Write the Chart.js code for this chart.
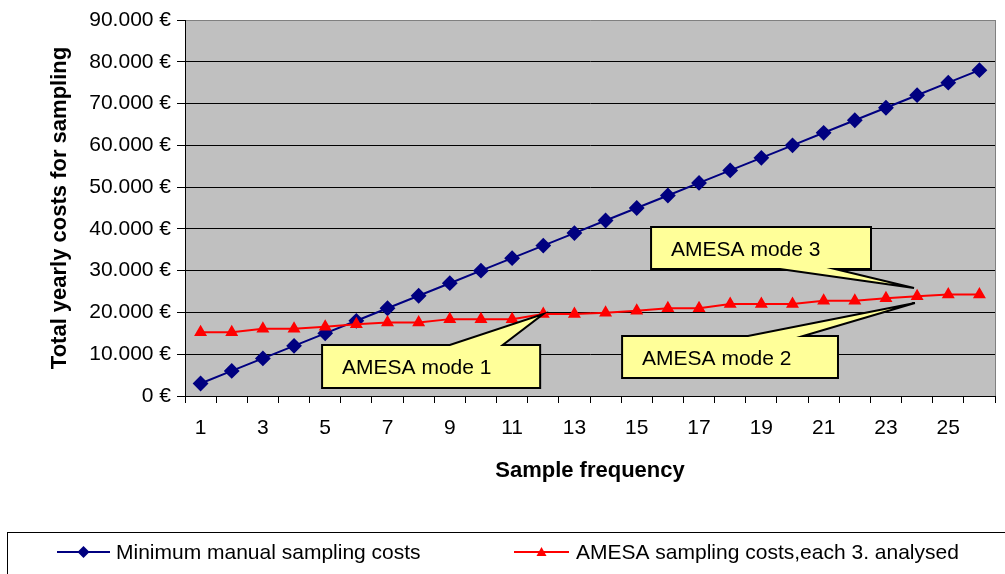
<!DOCTYPE html>
<html>
<head>
<meta charset="utf-8">
<script src="https://cdn.jsdelivr.net/npm/chart.js@4.4.1/dist/chart.umd.min.js"></script>
<style>
  html, body { margin: 0; padding: 0; background: #fff; }
  #contenedor { width: 1005px; height: 574px; }
</style>
</head>
<body>
<div id="contenedor"><canvas id="graficoCostes" width="1005" height="574"></canvas></div>
<script>
var frecuencias = ['1', '2', '3', '4', '5', '6', '7', '8', '9', '10', '11', '12', '13',
                   '14', '15', '16', '17', '18', '19', '20', '21', '22', '23', '24', '25', '26'];
var costesManual = [3000, 6000, 9000, 12000, 15000, 18000, 21000, 24000, 27000, 30000, 33000, 36000, 39000,
                    42000, 45000, 48000, 51000, 54000, 57000, 60000, 63000, 66000, 69000, 72000, 75000, 78000];
var costesAmesa = [15250, 15250, 16100, 16100, 16600, 17200, 17600, 17600, 18400, 18400, 18400, 19600, 19600,
                   19900, 20400, 21000, 21000, 22000, 22000, 22000, 22800, 22800, 23400, 23900, 24300, 24300];
var nombresSeries = ['Minimum manual sampling costs', 'AMESA sampling costs,each 3. analysed'];
var tituloY = 'Total yearly costs for sampling';
var tituloX = 'Sample frequency';
var maxY = 90000;
var pasoY = 10000;

// globos de texto (posicion en unidades de los ejes)
var globos = [
    { texto: 'AMESA mode 1', caja: [3.9, 10.9, 12200, 1900], base: [8.0, 9.7], lado: 'arriba', punta: [11, costesAmesa[11]] },
    { texto: 'AMESA mode 3', caja: [14.46, 21.52, 40450, 30400], base: [18.6, 20.36], lado: 'abajo', punta: [22.9, 25850] },
    { texto: 'AMESA mode 2', caja: [13.53, 20.46, 14360, 4310], base: [17.57, 19.34], lado: 'arriba', punta: [22.93, 22260] }
];

var fuente = "'Liberation Sans', Arial, sans-serif";
Chart.defaults.font.family = fuente;
Chart.defaults.font.size = 21;
Chart.defaults.color = '#000';

function formatoEuro(v) {
    return String(v).replace(/\B(?=(\d{3})+(?!\d))/g, '.') + ' €';
}

const fondoPlugin = {
    id: 'fondo',
    beforeDraw(chart) {
        const a = chart.chartArea, c = chart.ctx;
        c.save();
        c.fillStyle = '#C0C0C0';
        c.fillRect(a.left, a.top, a.right - a.left, a.bottom - a.top);
        c.restore();
    },
    beforeDatasetsDraw(chart) {
        const a = chart.chartArea, c = chart.ctx;
        c.save();
        c.strokeStyle = '#808080';
        c.lineWidth = 1;
        c.beginPath();
        c.moveTo(a.right + 0.5, a.top);
        c.lineTo(a.right + 0.5, a.bottom);
        c.stroke();
        c.restore();
    }
};

const globosPlugin = {
    id: 'globos',
    afterDatasetsDraw(chart) {
        const x = chart.scales.x, y = chart.scales.y, c = chart.ctx;
        globos.forEach(g => {
            const l = x.getPixelForValue(g.caja[0]), r = x.getPixelForValue(g.caja[1]);
            const t = y.getPixelForValue(g.caja[2]), b = y.getPixelForValue(g.caja[3]);
            const b1 = x.getPixelForValue(g.base[0]), b2 = x.getPixelForValue(g.base[1]);
            const px = x.getPixelForValue(g.punta[0]), py = y.getPixelForValue(g.punta[1]);
            c.save();
            c.beginPath();
            if (g.lado === 'arriba') {
                c.moveTo(l, t); c.lineTo(b1, t); c.lineTo(px, py); c.lineTo(b2, t);
                c.lineTo(r, t); c.lineTo(r, b); c.lineTo(l, b);
            } else {
                c.moveTo(l, t); c.lineTo(r, t); c.lineTo(r, b); c.lineTo(b2, b);
                c.lineTo(px, py); c.lineTo(b1, b); c.lineTo(l, b);
            }
            c.closePath();
            c.fillStyle = '#FFFF99';
            c.fill();
            c.strokeStyle = '#000';
            c.lineWidth = 2;
            c.lineJoin = 'miter';
            c.stroke();
            c.fillStyle = '#000';
            c.font = '21px ' + fuente;
            c.textBaseline = 'middle';
            c.textAlign = 'left';
            c.fillText(g.texto, l + 20, (t + b) / 2 + 2);
            c.restore();
        });
    }
};

const leyendaPlugin = {
    id: 'leyenda',
    afterDraw(chart) {
        const c = chart.ctx;
        const yc = 552;
        const items = [
            { x0: 57, x1: 110, xt: 116 },
            { x0: 514, x1: 569, xt: 576 }
        ];
        c.save();
        c.strokeStyle = '#000';
        c.lineWidth = 1;
        c.strokeRect(7.5, 532.5, 1010, 60);
        chart.data.datasets.forEach((ds, i) => {
            const it = items[i];
            const xm = (it.x0 + it.x1) / 2;
            c.strokeStyle = ds.borderColor;
            c.lineWidth = 2;
            c.beginPath();
            c.moveTo(it.x0, yc); c.lineTo(it.x1, yc);
            c.stroke();
            c.fillStyle = ds.pointBackgroundColor;
            c.beginPath();
            if (ds.pointStyle === 'rectRot') {
                c.moveTo(xm, yc - 6); c.lineTo(xm + 6, yc); c.lineTo(xm, yc + 6); c.lineTo(xm - 6, yc);
            } else {
                c.moveTo(xm, yc - 5); c.lineTo(xm + 5, yc + 4); c.lineTo(xm - 5, yc + 4);
            }
            c.closePath();
            c.fill();
            c.fillStyle = '#000';
            c.font = '21px ' + fuente;
            c.textBaseline = 'middle';
            c.fillText(ds.label, it.xt, yc + 1);
        });
        c.restore();
    }
};

const ctx = document.getElementById('graficoCostes').getContext('2d');
const chartCostes = new Chart(ctx, {
    type: 'line',
    data: {
        labels: frecuencias,
        datasets: [{
            label: nombresSeries[0],
            data: costesManual,
            borderColor: '#000080',
            backgroundColor: '#000080',
            pointBackgroundColor: '#000080',
            pointBorderColor: '#000080',
            pointStyle: 'rectRot',
            pointRadius: 6.5,
            borderWidth: 2,
            tension: 0,
            order: 2
        }, {
            label: nombresSeries[1],
            data: costesAmesa,
            borderColor: '#FF0000',
            backgroundColor: '#FF0000',
            pointBackgroundColor: '#FF0000',
            pointBorderColor: '#FF0000',
            pointStyle: 'triangle',
            pointRadius: 5.5,
            borderWidth: 2,
            tension: 0,
            order: 1
        }]
    },
    options: {
        responsive: false,
        animation: false,
        layout: { padding: { left: 0, top: 20, right: 10, bottom: 78 } },
        plugins: {
            legend: { display: false },
            tooltip: { enabled: false }
        },
        scales: {
            x: {
                offset: true,
                grid: { display: true, drawOnChartArea: false, drawTicks: true, tickLength: 7, color: '#000', offset: true },
                border: { color: '#000', width: 1 },
                ticks: {
                    autoSkip: false, maxRotation: 0, padding: 13,
                    callback: (v, i) => i % 2 === 0 ? frecuencias[i] : ''
                },
                title: { display: true, text: tituloX, font: { size: 22, weight: 'bold' }, padding: { top: 0, bottom: 12 } },
                afterFit(s) { s.height = 100; }
            },
            y: {
                min: 0,
                max: maxY,
                ticks: { stepSize: pasoY, padding: 6, callback: formatoEuro },
                grid: {
                    color: c => c.tick && c.tick.value === maxY ? '#808080' : '#000',
                    tickColor: '#000',
                    tickLength: 8
                },
                border: { color: '#000', width: 1 },
                title: { display: true, text: tituloY, font: { size: 22, weight: 'bold' }, padding: { top: 47, bottom: 0 } },
                afterFit(s) { s.width = 185; }
            }
        }
    },
    plugins: [fondoPlugin, globosPlugin, leyendaPlugin]
});
</script>
</body>
</html>
